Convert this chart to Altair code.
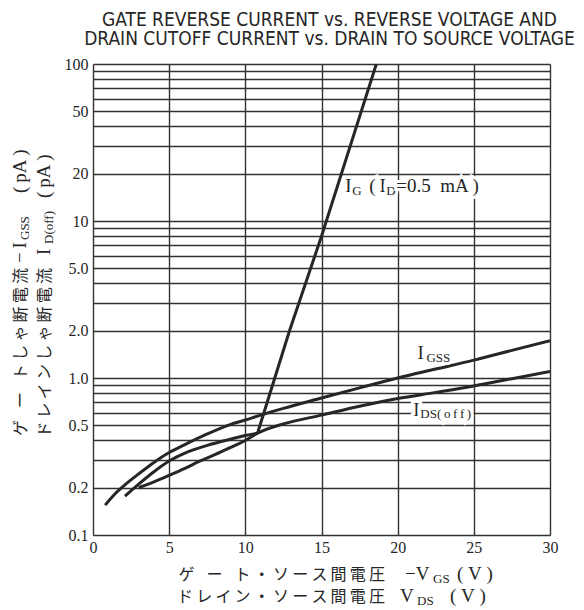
import altair as alt
import pandas as pd

INK = "#262626"
SERIF = "Liberation Serif"
CJK = "Noto Sans CJK JP"
NARROW = "Liberation Sans Narrow, DejaVu Sans Condensed, sans-serif"

# ---------------- data ----------------
igss_v = [0.8, 1.5, 2, 3, 4, 5, 6, 7.5, 9, 10, 11, 12.5, 15, 17.5, 20, 22.5, 25, 27.5, 30]
igss_i = [0.155, 0.185, 0.205, 0.245, 0.29, 0.335, 0.375, 0.44, 0.505, 0.54, 0.58, 0.64,
          0.745, 0.865, 1.0, 1.14, 1.3, 1.5, 1.73]

ids_v = [3, 4, 5, 6, 7, 8, 9, 10, 10.8, 12.5, 15, 17.5, 20, 22.5, 25, 27.5, 30]
ids_i = [0.2, 0.218, 0.24, 0.265, 0.295, 0.325, 0.36, 0.4, 0.445, 0.51, 0.58, 0.66,
         0.74, 0.81, 0.89, 0.99, 1.1]

ig_low_v = [2.1, 3, 4, 5, 6, 7.5, 9, 10, 10.8]
ig_low_i = [0.177, 0.211, 0.253, 0.296, 0.331, 0.372, 0.407, 0.43, 0.445]

ig_high_v = [10.8, 12.9, 15, 18.6]
ig_high_i = [0.445, 2.0, 8.0, 100]

x_ticks = [0, 5, 10, 15, 20, 25, 30]
y_grid = [0.1, 0.2, 0.3, 0.4, 0.5, 0.6, 0.7, 0.8, 0.9,
          1, 2, 3, 4, 5, 6, 7, 8, 9,
          10, 20, 30, 40, 50, 60, 70, 80, 90, 100]
y_labels = [0.1, 0.2, 0.5, 1, 2, 5, 10, 20, 50, 100]

title_lines = ["GATE REVERSE CURRENT vs. REVERSE VOLTAGE AND",
               "DRAIN CUTOFF CURRENT vs. DRAIN TO SOURCE VOLTAGE"]

# ---------------- tables ----------------
smooth_rows = []
for name, xs, ys in [("IGSS", igss_v, igss_i), ("IDS(off)", ids_v, ids_i), ("IG low", ig_low_v, ig_low_i)]:
    for a, b in zip(xs, ys):
        smooth_rows.append({"series": name, "v": a, "i": b})
smooth_df = pd.DataFrame(smooth_rows)
steep_df = pd.DataFrame({"series": "IG", "v": ig_high_v, "i": ig_high_i})

# ---------------- scales & axes ----------------
x_scale = alt.Scale(domain=[0, 30], nice=False, zero=False)
y_scale = alt.Scale(type="log", domain=[0.1, 100], nice=False)

lab_list = "[" + ",".join(str(v) for v in y_labels) + "]"
y_label_expr = (f"indexof({lab_list}, datum.value) >= 0 ? "
                "(datum.value >= 10 ? format(datum.value, 'd') : format(datum.value, '.1f')) : ''")

x_axis = alt.Axis(values=x_ticks, title=None, grid=True, gridColor="#333", gridWidth=1.4,
                  domain=False, ticks=False, tickSize=0, labelFont=SERIF, labelFontSize=16,
                  labelColor=INK, labelPadding=4, labelFlush=False, labelOverlap=False)
y_axis = alt.Axis(values=y_grid, title=None, grid=True, gridColor="#333", gridWidth=1.4,
                  domain=False, ticks=False, tickSize=0, labelFont=SERIF, labelFontSize=16,
                  labelColor=INK, labelPadding=5, labelExpr=y_label_expr, labelOverlap=False)

X = alt.X("v:Q", scale=x_scale, axis=x_axis)
Y = alt.Y("i:Q", scale=y_scale, axis=y_axis)

smooth = alt.Chart(smooth_df).mark_line(
    color=INK, strokeWidth=3, interpolate="monotone", clip=True
).encode(x=X, y=Y, detail="series:N")

steep = alt.Chart(steep_df).mark_line(
    color=INK, strokeWidth=3, clip=True
).encode(x=X, y=Y, detail="series:N")


# ---------------- text helpers ----------------
def data_text(txt, v, i, size, dx=0, dy=0, halo=False):
    df = pd.DataFrame({"v": [v], "i": [i]})
    layers = []
    if halo:
        layers.append(alt.Chart(df).mark_text(
            text=txt, font=SERIF, fontSize=size, align="left", baseline="alphabetic",
            dx=dx, dy=dy, color="white", stroke="white", strokeWidth=6
        ).encode(x=X, y=Y))
    layers.append(alt.Chart(df).mark_text(
        text=txt, font=SERIF, fontSize=size, align="left", baseline="alphabetic",
        dx=dx, dy=dy, color=INK
    ).encode(x=X, y=Y))
    return layers


def px_text(txt, x, y, size, font=SERIF, angle=0, align="left", dx=0, dy=0):
    df = pd.DataFrame({"t": [txt]})
    kw = dict(text=txt, font=font, fontSize=size, align=align, baseline="alphabetic",
              dx=dx, dy=dy, color=INK)
    if angle:
        kw["angle"] = angle
    return alt.Chart(df).mark_text(**kw).encode(x=alt.value(x), y=alt.value(y))


labels = []
# I_G (I_D = 0.5 mA)
ig_pieces = [("I", 19, 0, 0), ("G", 13, 7, 3), ("(\u2009I", 19, 24, 0), ("D", 13, 41, 3),
             ("=0.5\u2002mA\u2009)", 19, 51, 0)]
for t, s, dx, dy in ig_pieces:
    labels += data_text(t, 16.56, 15.2, s, dx, dy, halo=True)
# I_GSS
for t, s, dx, dy in [("I", 19, 0, 0), ("GSS", 13, 9, 3)]:
    labels += data_text(t, 21.3, 1.315, s, dx, dy, halo=True)
# I_DS(off)
for t, s, dx, dy in [("I", 19, 0, 0), ("DS(\u2009o\u2009f\u2009f\u2009)", 13, 7, 2)]:
    labels += data_text(t, 21.03, 0.57, s, dx, dy, halo=True)

# y-axis title (rotated, two lines)
SP3 = "\u2002\u2005"
TH = "\u2009"
y1_cjk = "ゲ" + SP3 + "ー" + SP3 + "ト" + TH + TH.join("しゃ断電流")
y2_cjk = TH.join("ドレインしゃ断電流")
labels += [
    px_text(y1_cjk, -67, 204, 16, font=CJK, angle=270, align="right"),
    px_text("\u2212\u2009I", -67, 204, 19, angle=270, dx=5),
    px_text("GSS", -67, 204, 13, angle=270, dx=28, dy=3),
    px_text("(\u2009pA\u2009)", -67, 204, 19, angle=270, dx=75),
    px_text(y2_cjk, -43, 204, 16, font=CJK, angle=270, align="right"),
    px_text("I", -43, 204, 19, angle=270, dx=13),
    px_text("D(off)", -43, 204, 13, angle=270, dx=24, dy=3),
    px_text("(\u2009pA\u2009)", -43, 204, 19, angle=270, dx=70),
]

# x-axis title (two lines)
x1_cjk = "ゲ" + SP3 + "ー" + SP3 + "ト" + TH + TH.join("・ソース間電圧")
x2_cjk = TH.join("ドレイン・ソース間電圧")
labels += [
    px_text(x1_cjk, 292, 516, 16, font=CJK, align="right"),
    px_text("\u2212V", 312, 516, 19),
    px_text("GS", 340, 516, 13, dy=3),
    px_text("(\u2005V\u2005)", 364, 516, 19),
    px_text(x2_cjk, 292, 538, 16, font=CJK, align="right"),
    px_text("V", 307, 538, 19),
    px_text("DS", 324, 538, 13, dy=3),
    px_text("(\u2005V\u2005)", 357, 538, 19),
]

chart = alt.layer(smooth, steep, *labels).properties(
    width=457,
    height=471,
    autosize=alt.AutoSizeParams(type="none"),
    padding={"left": 85, "top": 56, "right": 26, "bottom": 74},
    title=alt.TitleParams(
        title_lines, font=NARROW, fontSize=19, fontWeight="normal", color=INK,
        anchor="middle", dx=8, offset=7, lineHeight=19,
    ),
).configure_view(
    stroke=INK, strokeWidth=2.5
).configure(background="white")

chart.save("out.html", embed_options={"renderer": "svg", "actions": False})
